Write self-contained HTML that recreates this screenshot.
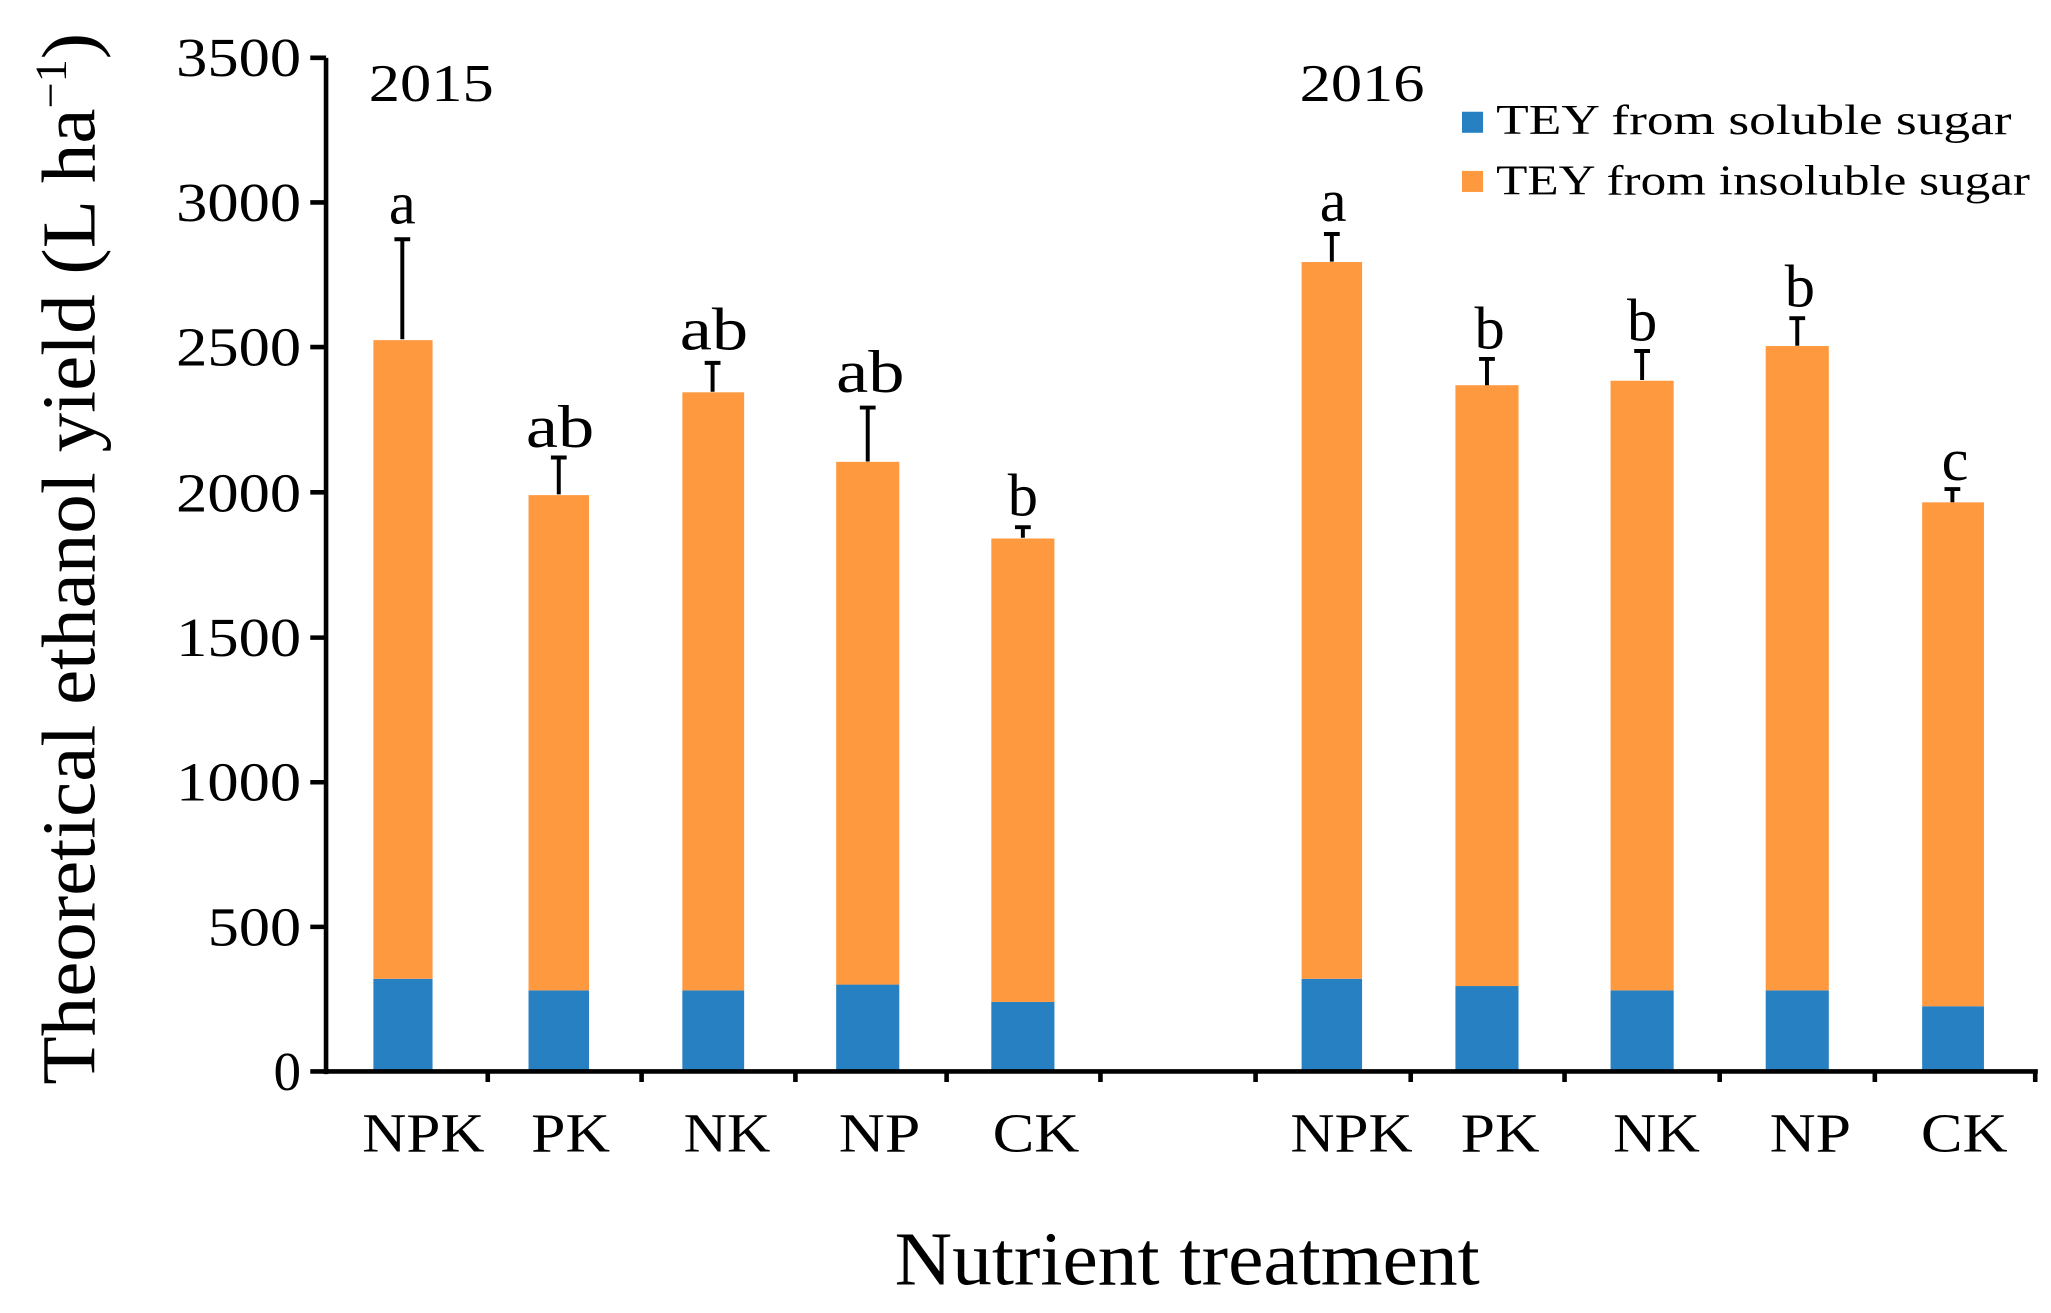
<!DOCTYPE html>
<html><head><meta charset="utf-8"><style>html,body{margin:0;padding:0;background:#fff}svg{display:block}</style></head>
<body>
<svg width="2051" height="1313" viewBox="0 0 1560 998.7" preserveAspectRatio="none" xmlns="http://www.w3.org/2000/svg" font-family="Liberation Serif, serif" fill="#000">
<g fill="#2680C2">
<rect x="284" y="744.5" width="45" height="70.5"/>
<rect x="402" y="753.3" width="46" height="61.7"/>
<rect x="519" y="753.3" width="47" height="61.7"/>
<rect x="636" y="748.9" width="48" height="66.1"/>
<rect x="754" y="762.1" width="48" height="52.9"/>
<rect x="990" y="744.5" width="46" height="70.5"/>
<rect x="1107" y="750" width="48" height="65"/>
<rect x="1225" y="753.3" width="48" height="61.7"/>
<rect x="1343" y="753.3" width="48" height="61.7"/>
<rect x="1462" y="765.4" width="47" height="49.6"/>
</g>
<g fill="#FF9940">
<rect x="284" y="258.7" width="45" height="485.8"/>
<rect x="402" y="376.6" width="46" height="376.7"/>
<rect x="519" y="298.4" width="47" height="454.9"/>
<rect x="636" y="351.3" width="48" height="397.6"/>
<rect x="754" y="409.6" width="48" height="352.5"/>
<rect x="990" y="199.3" width="46" height="545.2"/>
<rect x="1107" y="293" width="48" height="457"/>
<rect x="1225" y="289.6" width="48" height="463.7"/>
<rect x="1343" y="263.2" width="48" height="490.1"/>
<rect x="1462" y="382.1" width="47" height="383.3"/>
</g>
<g stroke="#000" stroke-width="3" fill="none">
<path d="M306 258V182M300 182h12"/>
<path d="M425 376V348M419 348h12"/>
<path d="M542 298V276M536 276h12"/>
<path d="M660 351V310M654 310h12"/>
<path d="M778 409V401M772 401h12"/>
<path d="M1013 199V178M1007 178h12"/>
<path d="M1131 293V273M1125 273h12"/>
<path d="M1249 289V267M1243 267h12"/>
<path d="M1367 263V242M1361 242h12"/>
<path d="M1485 382V372M1479 372h12"/>
</g>
<g stroke="#000" stroke-width="3.5" fill="none">
<path d="M248 44V817M236 44h12M236 154h12M236 264h12M236 374.5h12M236 485h12M236 595h12M236 705h12M236 815h12"/>
<path d="M246 815H1550"/>
<path d="M371 815v8M488 815v8M605 815v8M720 815v8M837 815v8M955 815v8M1073 815v8M1190 815v8M1308 815v8M1426 815v8M1548 815v8"/>
</g>
<g font-size="42" text-anchor="end">
<text x="229" y="58" textLength="95" lengthAdjust="spacingAndGlyphs">3500</text><text x="229" y="168" textLength="95" lengthAdjust="spacingAndGlyphs">3000</text><text x="229" y="278" textLength="95" lengthAdjust="spacingAndGlyphs">2500</text><text x="229" y="389" textLength="95" lengthAdjust="spacingAndGlyphs">2000</text>
<text x="229" y="499" textLength="95" lengthAdjust="spacingAndGlyphs">1500</text><text x="229" y="609" textLength="95" lengthAdjust="spacingAndGlyphs">1000</text><text x="229" y="719" textLength="71" lengthAdjust="spacingAndGlyphs">500</text><text x="229" y="829">0</text>
</g>
<g font-size="46" text-anchor="middle">
<text x="306" y="170">a</text><text x="426" y="340" textLength="52" lengthAdjust="spacingAndGlyphs">ab</text><text x="543" y="266" textLength="52" lengthAdjust="spacingAndGlyphs">ab</text><text x="662" y="298" textLength="52" lengthAdjust="spacingAndGlyphs">ab</text><text x="778" y="392">b</text>
<text x="1014" y="168">a</text><text x="1133" y="265">b</text><text x="1249" y="259">b</text><text x="1369" y="233">b</text><text x="1487" y="365">c</text>
</g>
<g font-size="42" text-anchor="middle">
<text x="322" y="876" textLength="93" lengthAdjust="spacingAndGlyphs">NPK</text><text x="434" y="876" textLength="60" lengthAdjust="spacingAndGlyphs">PK</text><text x="553" y="876" textLength="66" lengthAdjust="spacingAndGlyphs">NK</text><text x="669" y="876" textLength="62" lengthAdjust="spacingAndGlyphs">NP</text><text x="788" y="876" textLength="66" lengthAdjust="spacingAndGlyphs">CK</text>
<text x="1028" y="876" textLength="93" lengthAdjust="spacingAndGlyphs">NPK</text><text x="1141" y="876" textLength="60" lengthAdjust="spacingAndGlyphs">PK</text><text x="1260" y="876" textLength="66" lengthAdjust="spacingAndGlyphs">NK</text><text x="1377" y="876" textLength="62" lengthAdjust="spacingAndGlyphs">NP</text><text x="1494" y="876" textLength="66" lengthAdjust="spacingAndGlyphs">CK</text>
</g>
<text x="328" y="77" font-size="40" text-anchor="middle" textLength="95" lengthAdjust="spacingAndGlyphs">2015</text>
<text x="1036" y="77" font-size="40" text-anchor="middle" textLength="95" lengthAdjust="spacingAndGlyphs">2016</text>
<rect x="1112" y="85" width="16" height="16" fill="#2680C2"/>
<rect x="1112" y="130" width="16" height="16" fill="#FF9940"/>
<text x="1138" y="102" font-size="32" textLength="392" lengthAdjust="spacingAndGlyphs">TEY from soluble sugar</text>
<text x="1138" y="148" font-size="32" textLength="406" lengthAdjust="spacingAndGlyphs">TEY from insoluble sugar</text>
<text x="903" y="977" font-size="58" text-anchor="middle" textLength="445" lengthAdjust="spacingAndGlyphs">Nutrient treatment</text>
<text transform="translate(72,425) rotate(-90)" font-size="58" text-anchor="middle" textLength="800" lengthAdjust="spacingAndGlyphs">Theoretical ethanol yield (L ha<tspan font-size="34" dy="-22">−1</tspan><tspan dy="22">)</tspan></text>
</svg>
</body></html>
